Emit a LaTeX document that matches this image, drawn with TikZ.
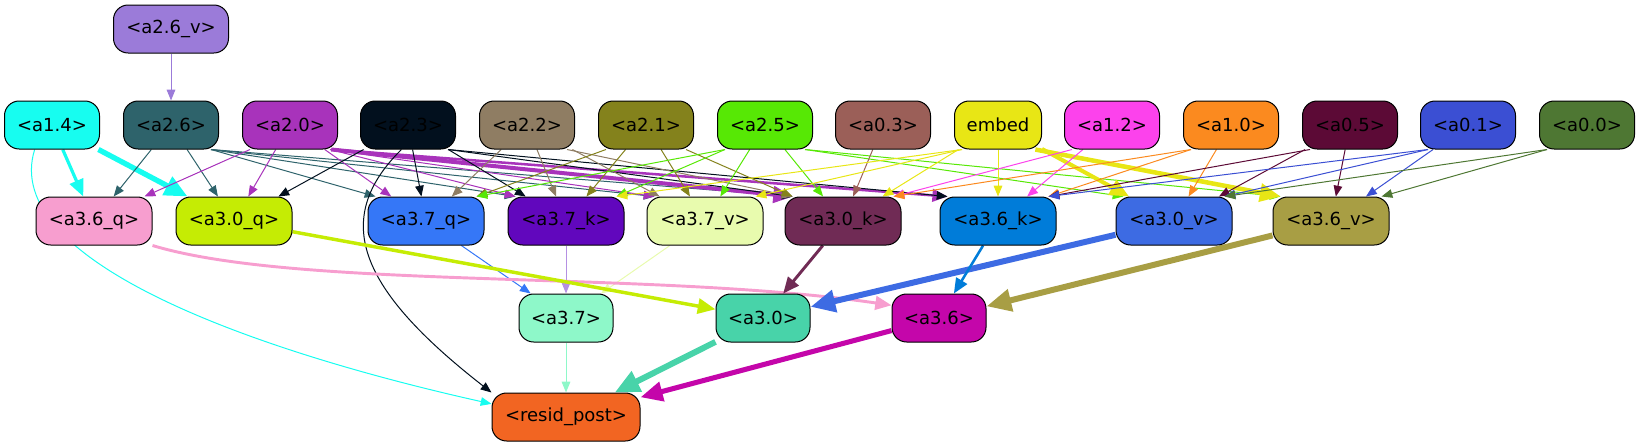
\documentclass[tikz,border=0pt]{standalone}
\usepackage{fontspec}
\setmainfont{DejaVu Sans}
\usetikzlibrary{arrows.meta}
\definecolor{c26v}{HTML}{9B7BD9}
\definecolor{c14}{HTML}{17FDF0}
\definecolor{c26}{HTML}{2E636B}
\definecolor{c20}{HTML}{A833BB}
\definecolor{c23}{HTML}{02101E}
\definecolor{c22}{HTML}{8F7D63}
\definecolor{c21}{HTML}{84821C}
\definecolor{c25}{HTML}{57E805}
\definecolor{c03}{HTML}{9B5F58}
\definecolor{cemb}{HTML}{E8E615}
\definecolor{c12}{HTML}{FC42EC}
\definecolor{c10}{HTML}{FB8A1F}
\definecolor{c05}{HTML}{5C0A36}
\definecolor{c01}{HTML}{3B4FD3}
\definecolor{c00}{HTML}{4E7733}
\definecolor{c36q}{HTML}{F79ECF}
\definecolor{c30q}{HTML}{C5EC04}
\definecolor{c37q}{HTML}{3577F7}
\definecolor{c37k}{HTML}{6107BD}
\definecolor{c37kl}{HTML}{B590E3}
\definecolor{c37v}{HTML}{E8FBAE}
\definecolor{c30k}{HTML}{702B55}
\definecolor{c36k}{HTML}{007CD9}
\definecolor{c30v}{HTML}{3D6BE3}
\definecolor{c36v}{HTML}{A89E44}
\definecolor{c37}{HTML}{8EF8C9}
\definecolor{c30}{HTML}{48D3A9}
\definecolor{c36}{HTML}{C406AA}
\definecolor{crp}{HTML}{F26522}
\pgfdeclarelayer{bg}
\pgfsetlayers{bg,main}
\tikzset{
  nd/.style={draw=black, line width=0.75pt, rounded corners=11pt, minimum height=36pt,
    minimum width=71.25pt, inner sep=0pt, font=\fontsize{13.5}{16}\selectfont, text=black},
  wd/.style={nd, minimum width=87pt},
  e/.style={line width=0.75pt, -{Triangle[length=6pt 2.8, width=4.5pt 2.6]}},
}
\begin{document}
\begin{tikzpicture}[x=0.75pt, y=-0.75pt]
\useasboundingbox (0,0) rectangle (1640,443);
% row 0
\node[nd, fill=c26v, minimum width=86.25pt] (a26v) at (171,29) {<a2.6\_v>};
% row 1
\node[nd, fill=c14] (a14) at (52,125) {<a1.4>};
\node[nd, fill=c26] (a26) at (171,125) {<a2.6>};
\node[nd, fill=c20] (a20) at (290,125) {<a2.0>};
\node[nd, fill=c23] (a23) at (408,125) {<a2.3>};
\node[nd, fill=c22] (a22) at (527,125) {<a2.2>};
\node[nd, fill=c21] (a21) at (646,125) {<a2.1>};
\node[nd, fill=c25] (a25) at (765,125) {<a2.5>};
\node[nd, fill=c03] (a03) at (883,125) {<a0.3>};
\node[nd, fill=cemb, minimum width=65.25pt] (emb) at (998,125) {embed};
\node[nd, fill=c12] (a12) at (1112,125) {<a1.2>};
\node[nd, fill=c10] (a10) at (1231,125) {<a1.0>};
\node[nd, fill=c05] (a05) at (1350,125) {<a0.5>};
\node[nd, fill=c01] (a01) at (1468,125) {<a0.1>};
\node[nd, fill=c00] (a00) at (1587,125) {<a0.0>};
% row 2
\node[wd, fill=c36q] (a36q) at (94,221) {<a3.6\_q>};
\node[wd, fill=c30q] (a30q) at (234,221) {<a3.0\_q>};
\node[wd, fill=c37q] (a37q) at (426,221) {<a3.7\_q>};
\node[wd, fill=c37k] (a37k) at (566,221) {<a3.7\_k>};
\node[wd, fill=c37v] (a37v) at (705,221) {<a3.7\_v>};
\node[wd, fill=c30k] (a30k) at (843,221) {<a3.0\_k>};
\node[wd, fill=c36k] (a36k) at (998,221) {<a3.6\_k>};
\node[wd, fill=c30v] (a30v) at (1174,221) {<a3.0\_v>};
\node[wd, fill=c36v] (a36v) at (1331,221) {<a3.6\_v>};
% row 3
\node[nd, fill=c37, minimum width=70.5pt] (a37) at (566,318) {<a3.7>};
\node[nd, fill=c30, minimum width=70.5pt] (a30) at (763,318) {<a3.0>};
\node[nd, fill=c36, minimum width=70.5pt] (a36) at (939,318) {<a3.6>};
% row 4
\node[nd, fill=crp, minimum width=111pt] (rp) at (566,417) {<resid\_post>};

\begin{pgfonlayer}{bg}
\draw[e, c26v] (a26v) -- (a26);
% a1.4
\draw[e, c14, line width=2.4pt] (a14) -- (a36q);
\draw[e, c14, line width=4pt] (a14) -- (a30q);
\draw[e, c14] ([xshift=-13pt]a14.south) .. controls (0,260) and (250,350) .. (rp.170);
% a2.6
\draw[e, c26] (a26) -- (a36q);
\draw[e, c26] (a26) -- (a30q);
\foreach \t in {a37q,a37k,a37v,a30k} \draw[e, c26] ([xshift=-6pt]a26.south east) -- ([xshift=6pt]\t.north west);
% a2.0
\draw[e, c20] ([xshift=6pt]a20.south west) -- ([xshift=-6pt]a36q.north east);
\draw[e, c20] (a20) -- (a30q);
\draw[e, c20] (a20) -- (a37q);
\foreach \t in {a37k,a37v} \draw[e, c20] ([xshift=-6pt]a20.south east) -- ([xshift=6pt]\t.north west);
\draw[e, c20, line width=3pt] ([xshift=-5pt]a20.south east) -- ([xshift=6pt]a30k.north west);
\draw[e, c20, line width=1.9pt] ([xshift=-5pt]a20.south east) -- ([xshift=6pt]a36k.north west);
% a2.3
\foreach \t in {a30q,a37q,a37k} \draw[e, c23] (a23) -- (\t);
\foreach \t in {a30k,a36k} \draw[e, c23] ([xshift=-6pt]a23.south east) -- ([xshift=6pt]\t.north west);
\draw[e, c23] (a23.-105) .. controls (330,220) and (360,290) .. (rp.north west);
% a2.2
\foreach \t in {a37q,a37k,a37v} \draw[e, c22] (a22) -- (\t);
\draw[e, c22] ([xshift=-6pt]a22.south east) -- ([xshift=6pt]a30k.north west);
% a2.1
\draw[e, c21] ([xshift=6pt]a21.south west) -- ([xshift=-6pt]a37q.north east);
\foreach \t in {a37k,a37v} \draw[e, c21] (a21) -- (\t);
\draw[e, c21] ([xshift=-6pt]a21.south east) -- ([xshift=6pt]a30k.north west);
% a2.5
\foreach \t in {a37q,a37k} \draw[e, c25] ([xshift=6pt]a25.south west) -- ([xshift=-6pt]\t.north east);
\foreach \t in {a37v,a30k} \draw[e, c25] (a25) -- (\t);
\foreach \t in {a30v,a36v} \draw[e, c25] ([xshift=-6pt]a25.south east) -- ([xshift=6pt]\t.north west);
% a0.3
\draw[e, c03] (a03) -- (a30k);
% embed
\foreach \t in {a37k,a37v} \draw[e, cemb] ([xshift=6pt]emb.south west) -- ([xshift=-6pt]\t.north east);
\foreach \t in {a30k,a36k} \draw[e, cemb] (emb) -- (\t);
\draw[e, cemb, line width=3pt] (emb) -- (a30v);
\draw[e, cemb, line width=3.4pt] ([xshift=-5pt]emb.south east) -- ([xshift=6pt]a36v.north west);
% a1.2, a1.0
\draw[e, c12] ([xshift=6pt]a12.south west) -- ([xshift=-6pt]a30k.north east);
\draw[e, c12] (a12) -- (a36k);
\foreach \t in {a30k,a36k} \draw[e, c10] ([xshift=6pt]a10.south west) -- ([xshift=-6pt]\t.north east);
\draw[e, c10] (a10) -- (a30v);
% a0.5, a0.1, a0.0
\draw[e, c05] ([xshift=6pt]a05.south west) -- ([xshift=-6pt]a36k.north east);
\foreach \t in {a30v,a36v} \draw[e, c05] (a05) -- (\t);
\foreach \t in {a36k,a30v} \draw[e, c01] ([xshift=6pt]a01.south west) -- ([xshift=-6pt]\t.north east);
\draw[e, c01] (a01) -- (a36v);
\foreach \t in {a30v,a36v} \draw[e, c00] ([xshift=6pt]a00.south west) -- ([xshift=-6pt]\t.north east);
% row 2 -> row 3
\draw[e, c37q] (a37q) -- (a37);
\draw[e, c37kl] (a37k) -- (a37);
\draw[e, c37v] (a37v) -- (a37);
\draw[e, c36q, line width=2.2pt] (a36q.south east) .. controls (300,290) and (650,270) .. (a36.165);
\draw[e, c30q, line width=2.6pt] (a30q) -- (a30);
\draw[e, c30k, line width=2.2pt] (a30k) -- (a30);
\draw[e, c30v, line width=4.5pt] (a30v) -- (a30);
\draw[e, c36k, line width=1.9pt] (a36k) -- (a36);
\draw[e, c36v, line width=4.5pt] (a36v) -- (a36);
% row 3 -> resid_post
\draw[e, c37] (a37) -- (rp);
\draw[e, c30, line width=4.5pt] (a30) -- (rp);
\draw[e, c36, line width=3.8pt] (a36) -- (rp);
\end{pgfonlayer}
\end{tikzpicture}
\end{document}
